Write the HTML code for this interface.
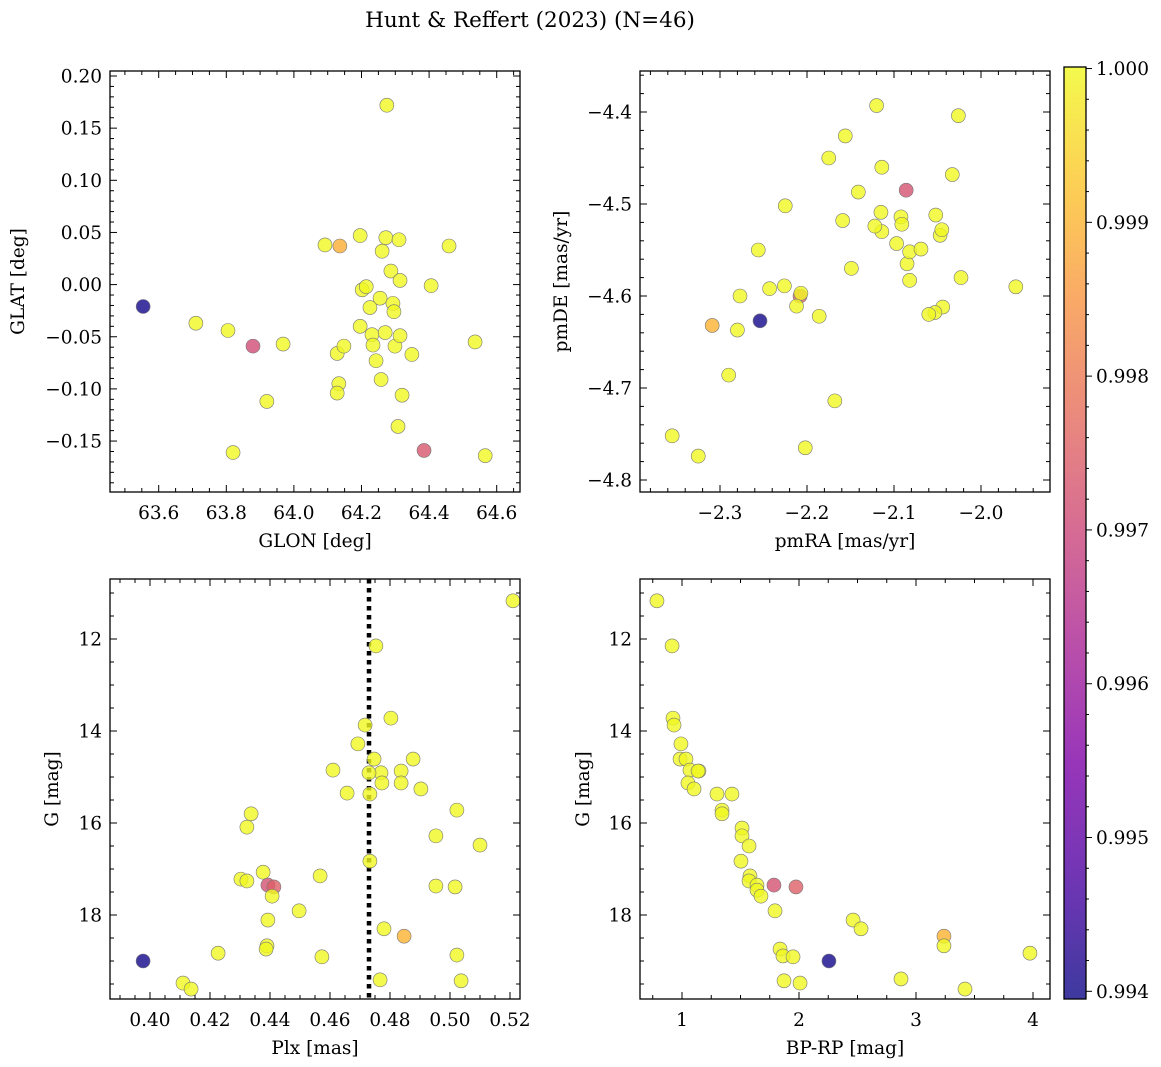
<!DOCTYPE html>
<html><head><meta charset="utf-8">
<style>
body{margin:0;background:#fff;}
svg{display:block;font-family:"DejaVu Serif","Liberation Serif",serif;}
</style></head>
<body>
<svg id="fig" width="1161" height="1067" viewBox="0 0 1161 1067">
<text x="530" y="27" font-size="21.5" text-anchor="middle">Hunt &amp; Reffert (2023) (N=46)</text>
</svg>
<script>
// Panel 1: GLON / GLAT
const glon = [63.554,63.710,63.805,63.879,63.968,63.920,63.820,64.092,64.136,64.196,64.272,64.311,64.261,64.459,64.202,64.214,64.196,64.128,64.148,64.133,64.128,64.255,64.287,64.293,64.296,64.314,64.225,64.231,64.234,64.243,64.258,64.270,64.299,64.314,64.349,64.320,64.308,64.385,64.406,64.536,64.566,64.275];
const glat = [-0.021,-0.037,-0.044,-0.059,-0.057,-0.112,-0.161,0.038,0.037,0.047,0.045,0.043,0.032,0.037,-0.005,-0.002,-0.040,-0.066,-0.059,-0.095,-0.104,-0.013,0.013,-0.018,-0.026,0.004,-0.022,-0.048,-0.058,-0.073,-0.091,-0.046,-0.059,-0.049,-0.067,-0.106,-0.136,-0.159,-0.001,-0.055,-0.164,0.172];
const prob1 = [0.994,1,1,0.9971,1,1,1,1,0.9989,1,1,1,1,1,1,1,1,1,1,1,1,1,1,1,1,1,1,1,1,1,1,1,1,1,1,1,1,0.9973,1,1,1,1];
// Panel 2: pmRA / pmDE
const pmra = [-2.120,-2.026,-2.156,-2.175,-2.141,-2.114,-2.086,-2.033,-2.225,-2.159,-2.115,-2.114,-2.122,-2.097,-2.092,-2.091,-2.052,-2.047,-2.045,-2.085,-2.082,-2.069,-2.149,-2.256,-2.226,-2.243,-2.277,-2.208,-2.207,-2.186,-2.212,-2.023,-2.082,-2.044,-2.053,-2.060,-1.960,-2.254,-2.309,-2.280,-2.290,-2.168,-2.355,-2.325,-2.202];
const pmde = [-4.393,-4.404,-4.426,-4.450,-4.487,-4.460,-4.485,-4.468,-4.502,-4.518,-4.509,-4.530,-4.524,-4.543,-4.514,-4.522,-4.512,-4.534,-4.528,-4.565,-4.552,-4.549,-4.570,-4.550,-4.589,-4.592,-4.600,-4.600,-4.597,-4.622,-4.611,-4.580,-4.583,-4.612,-4.618,-4.620,-4.590,-4.627,-4.632,-4.637,-4.686,-4.714,-4.752,-4.774,-4.765];
const prob2 = [1,1,1,1,1,1,0.9972,1,1,1,1,1,1,1,1,1,1,1,1,1,1,1,1,1,1,1,1,0.9975,1,1,1,1,1,1,1,1,1,0.994,0.999,1,1,1,1,1,1];
// Panel 3: Plx / G
const plx = [0.4753,0.5210,0.4803,0.4717,0.4693,0.4747,0.4877,0.4770,0.4837,0.4837,0.4773,0.4733,0.4903,0.4610,0.4657,0.4730,0.5023,0.4953,0.5100,0.4733,0.4337,0.4323,0.4377,0.4303,0.4323,0.4393,0.4413,0.4407,0.4567,0.4497,0.4393,0.4953,0.5017,0.4780,0.4847,0.4390,0.4387,0.4227,0.4573,0.5023,0.3977,0.4110,0.4137,0.4767,0.5037];
const gmag3 = [12.15,11.17,13.72,13.87,14.28,14.61,14.61,14.91,14.87,15.13,15.13,15.37,15.26,14.85,15.35,14.91,15.72,16.28,16.48,16.83,15.80,16.09,17.07,17.22,17.26,17.35,17.39,17.59,17.15,17.91,18.11,17.37,17.39,18.30,18.46,18.67,18.74,18.83,18.91,18.87,19.00,19.48,19.61,19.41,19.43];
const prob3 = [1,1,1,1,1,1,1,1,1,1,1,1,1,1,1,1,1,1,1,1,1,1,1,1,1,0.9972,0.9975,1,1,1,1,1,1,1,0.999,1,1,1,1,1,0.994,1,1,1,1];
const plxMedian = 0.4730;
// Panel 4: BP-RP / G
const bprp = [0.786,0.915,0.923,0.932,0.991,0.983,1.034,1.068,1.145,1.051,1.103,1.137,1.299,1.342,1.342,1.427,1.513,1.513,1.573,1.504,1.581,1.573,1.641,1.641,1.675,1.786,1.795,1.974,2.462,2.530,3.239,3.239,2.872,3.974,3.419,2.256,1.838,1.863,1.949,1.872,2.009];
const gmag4 = [11.17,12.15,13.72,13.87,14.28,14.61,14.61,14.85,14.87,15.13,15.26,14.87,15.37,15.72,15.80,15.37,16.11,16.28,16.50,16.83,17.15,17.26,17.35,17.46,17.59,17.35,17.91,17.39,18.11,18.30,18.46,18.67,19.39,18.83,19.61,19.00,18.74,18.89,18.91,19.43,19.48];
const prob4 = [1,1,1,1,1,1,1,1,1,1,1,1,1,1,1,1,1,1,1,1,1,1,1,1,1,0.9972,1,0.9975,1,1,0.999,1,1,1,1,0.994,1,1,1,1,1];
// Colorbar
const cbTicks = [0.994,0.995,0.996,0.997,0.998,0.999,1.000];
const cbLabels = ["0.994","0.995","0.996","0.997","0.998","0.999","1.000"];

const svg = document.getElementById('fig');
const NS = 'http://www.w3.org/2000/svg';
const FS = 18.5;
function mk(tag, attrs, parent){const e=document.createElementNS(NS,tag);for(const k in attrs)e.setAttribute(k,attrs[k]);(parent||svg).appendChild(e);return e;}

const stops=[[0,[13,8,135]],[0.125,[75,3,161]],[0.25,[125,3,168]],[0.375,[168,34,150]],[0.5,[203,70,121]],[0.625,[229,107,93]],[0.75,[248,148,65]],[0.875,[253,195,40]],[1,[240,249,33]]];
const VMIN=0.99395, VMAX=1.00001;
function plasma(t){t=Math.max(0,Math.min(1,t));for(let i=1;i<stops.length;i++){if(t<=stops[i][0]){const a=stops[i-1],b=stops[i];const f=(t-a[0])/(b[0]-a[0]);const c=a[1].map((v,j)=>Math.round(v+(b[1][j]-v)*f));return `rgb(${c[0]},${c[1]},${c[2]})`;}}return 'rgb(240,249,33)';}
function cmap(p){return plasma((p-VMIN)/(VMAX-VMIN));}

function fmt(v,d){const s=Math.abs(v).toFixed(d);return (v<-1e-9?'\u2212':'')+s;}

function panel(o){
  const g=mk('g',{});
  
  
  const L=o.box[0],T=o.box[1],R=o.box[2],B=o.box[3];
  const sx=v=>o.x0px+(v-o.x0)*o.xs;
  const sy=v=>o.y0px+(v-o.y0)*o.ys;
  const xmin=o.x0+(L-o.x0px)/o.xs, xmax=o.x0+(R-o.x0px)/o.xs;
  const ya=o.y0+(T-o.y0px)/o.ys, yb=o.y0+(B-o.y0px)/o.ys;
  const ymin=Math.min(ya,yb), ymax=Math.max(ya,yb);
  const clipId='clip'+o.name;
  const cp=mk('clipPath',{id:clipId},g);mk('rect',{x:L,y:T,width:R-L,height:B-T},cp);
  if(o.vline!==undefined){
    const vl=mk('line',{x1:sx(o.vline),x2:sx(o.vline),y1:T,y2:B,stroke:'#000','stroke-width':4.5,'stroke-dasharray':'4.5,4.5','clip-path':`url(#${clipId})`},g);
    
    
  }
  const pg=mk('g',{'clip-path':`url(#${clipId})`},g);
  o.xs_.forEach((xv,i)=>{
    const c=mk('circle',{cx:sx(xv),cy:sy(o.ys_[i]),r:7,fill:cmap(o.c[i]),'fill-opacity':0.8,stroke:'#777','stroke-width':0.6},pg);
    
    
  });
  mk('rect',{x:L,y:T,width:R-L,height:B-T,fill:'none',stroke:'#000','stroke-width':1.3},g);
  const xt=Math.ceil(xmin/o.xminor-1e-6);
  for(let k=xt;k*o.xminor<=xmax+1e-9;k++){
    const v=k*o.xminor;const px=sx(v);
    const major=Math.abs(v/o.xmajor-Math.round(v/o.xmajor))<1e-6;
    const len=major?7:4;
    mk('line',{x1:px,x2:px,y1:B,y2:B-len,stroke:'#000','stroke-width':1},g);
    mk('line',{x1:px,x2:px,y1:T,y2:T+len,stroke:'#000','stroke-width':1},g);
    if(major){const t=mk('text',{x:px,y:B+27,'font-size':FS,'text-anchor':'middle'},g);t.textContent=fmt(v,o.xdec);
      }
  }
  const yt=Math.ceil(ymin/o.yminor-1e-6);
  for(let k=yt;k*o.yminor<=ymax+1e-9;k++){
    const v=k*o.yminor;const py=sy(v);
    const major=Math.abs(v/o.ymajor-Math.round(v/o.ymajor))<1e-6;
    const len=major?7:4;
    mk('line',{x1:L,x2:L+len,y1:py,y2:py,stroke:'#000','stroke-width':1},g);
    mk('line',{x1:R,x2:R-len,y1:py,y2:py,stroke:'#000','stroke-width':1},g);
    if(major){const t=mk('text',{x:L-8,y:py+6.5,'font-size':FS,'text-anchor':'end'},g);t.textContent=fmt(v,o.ydec);
      }
  }
  const xl=mk('text',{x:(L+R)/2,y:B+55,'font-size':FS,'text-anchor':'middle'},g);xl.textContent=o.xlabel;
  
  const yl=mk('text',{x:o.ylx,y:(T+B)/2,'font-size':FS,'text-anchor':'middle',transform:`rotate(-90 ${o.ylx} ${(T+B)/2})`},g);yl.textContent=o.ylabel;
  
}

panel({name:'glon-glat-panel',box:[110,71,520,492],x0:63.6,x0px:158.7,xs:338,y0:0.2,y0px:76,ys:-1043,
  xmajor:0.2,xminor:0.05,ymajor:0.05,yminor:0.01,xdec:1,ydec:2,xs_:glon,ys_:glat,c:prob1,xlabel:'GLON [deg]',ylabel:'GLAT [deg]',ylx:24});
panel({name:'proper-motion-panel',box:[640,71,1050,492],x0:-2.3,x0px:720,xs:870,y0:-4.4,y0px:112,ys:-920,
  xmajor:0.1,xminor:0.02,ymajor:0.1,yminor:0.02,xdec:1,ydec:1,xs_:pmra,ys_:pmde,c:prob2,xlabel:'pmRA [mas/yr]',ylabel:'pmDE [mas/yr]',ylx:567});
panel({name:'parallax-mag-panel',box:[110,579,520,999],x0:0.40,x0px:150,xs:3000,y0:12,y0px:639,ys:46,
  xmajor:0.02,xminor:0.005,ymajor:2,yminor:0.5,xdec:2,ydec:0,xs_:plx,ys_:gmag3,c:prob3,xlabel:'Plx [mas]',ylabel:'G [mag]',ylx:58,vline:plxMedian});
panel({name:'color-mag-panel',box:[640,579,1050,999],x0:1,x0px:682,xs:117,y0:12,y0px:639,ys:46,
  xmajor:1,xminor:0.25,ymajor:2,yminor:0.5,xdec:0,ydec:0,xs_:bprp,ys_:gmag4,c:prob4,xlabel:'BP-RP [mag]',ylabel:'G [mag]',ylx:589});

(function(){
  const L=1064,R=1086,T=67,B=999;
  const g=mk('g',{});
  
  
  const defs=mk('defs',{},g);
  const lg=mk('linearGradient',{id:'cbg',x1:0,y1:1,x2:0,y2:0},defs);
  for(let i=0;i<=20;i++){mk('stop',{offset:i/20,'stop-color':plasma(i/20),'stop-opacity':0.8},lg);}
  mk('rect',{x:L,y:T,width:R-L,height:B-T,fill:'url(#cbg)'},g);
  mk('rect',{x:L,y:T,width:R-L,height:B-T,fill:'none',stroke:'#000','stroke-width':1.3},g);
  const sy=v=>B-(v-VMIN)/(VMAX-VMIN)*(B-T);
  for(let v=0.9940;v<=1.0002;v+=0.0002){
    const py=sy(v);if(py<T||py>B)continue;
    const major=Math.abs(v*1000-Math.round(v*1000))<1e-6;
    mk('line',{x1:R,x2:R+(major?6:3),y1:py,y2:py,stroke:'#000','stroke-width':1},g);
  }
  cbTicks.forEach((v,i)=>{
    const t=mk('text',{x:R+10,y:sy(v)+6.5,'font-size':FS},g);t.textContent=cbLabels[i];
    
    
  });
})();
</script>
</body></html>
